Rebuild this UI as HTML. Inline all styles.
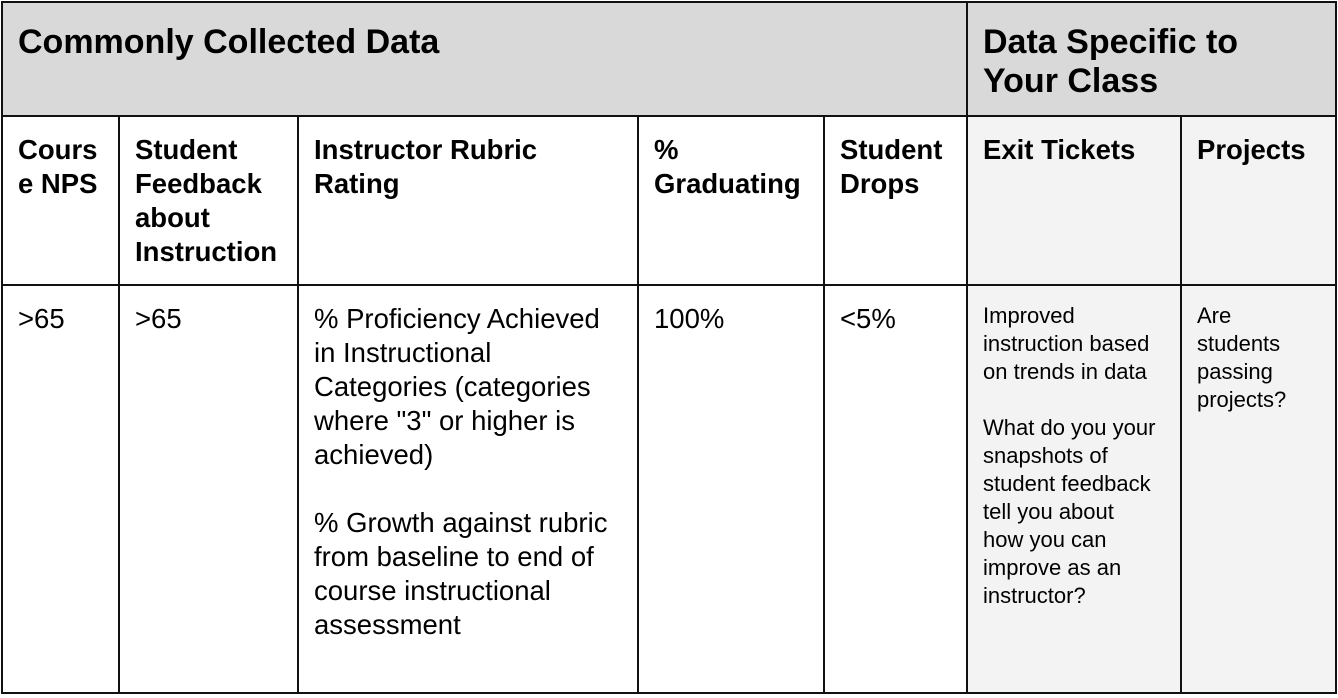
<!DOCTYPE html>
<html><head><meta charset="utf-8"><style>
html,body{margin:0;padding:0;background:#fff;width:1338px;height:698px;overflow:hidden}
body{position:relative;font-family:"Liberation Sans",Arial,sans-serif;color:#000}
.c{position:absolute;box-sizing:border-box;border:2px solid #111;}
.t{position:absolute;left:15px;right:4px;}
.h{font-weight:bold;font-size:34px;line-height:39px}
.b{font-weight:bold;font-size:27.5px;line-height:34px}
.n{font-size:27.5px;line-height:34px}
.s{font-size:22px;line-height:28px}
.g1{background:#d9d9d9}.g2{background:#f3f3f3}
</style></head><body>
<div class="c g1" style="left:1px;top:1px;width:967px;height:116px"><div class="t h" style="top:20px">Commonly Collected Data</div></div>
<div class="c g1" style="left:966px;top:1px;width:371px;height:116px"><div class="t h" style="top:20px;white-space:nowrap">Data Specific to<br>Your Class</div></div>

<div class="c" style="left:1px;top:115px;width:119px;height:171px"><div class="t b" style="top:16px">Cours<br>e NPS</div></div>
<div class="c" style="left:118px;top:115px;width:181px;height:171px"><div class="t b" style="top:16px">Student<br>Feedback<br>about<br>Instruction</div></div>
<div class="c" style="left:297px;top:115px;width:342px;height:171px"><div class="t b" style="top:16px">Instructor Rubric<br>Rating</div></div>
<div class="c" style="left:637px;top:115px;width:188px;height:171px"><div class="t b" style="top:16px">%<br>Graduating</div></div>
<div class="c" style="left:823px;top:115px;width:145px;height:171px"><div class="t b" style="top:16px">Student<br>Drops</div></div>
<div class="c g2" style="left:966px;top:115px;width:216px;height:171px"><div class="t b" style="top:16px">Exit Tickets</div></div>
<div class="c g2" style="left:1180px;top:115px;width:157px;height:171px"><div class="t b" style="top:16px">Projects</div></div>

<div class="c" style="left:1px;top:284px;width:119px;height:410px"><div class="t n" style="top:16px">&gt;65</div></div>
<div class="c" style="left:118px;top:284px;width:181px;height:410px"><div class="t n" style="top:16px">&gt;65</div></div>
<div class="c" style="left:297px;top:284px;width:342px;height:410px"><div class="t n" style="top:16px;white-space:nowrap">% Proficiency Achieved<br>in Instructional<br>Categories (categories<br>where "3" or higher is<br>achieved)<br><br>% Growth against rubric<br>from baseline to end of<br>course instructional<br>assessment</div></div>
<div class="c" style="left:637px;top:284px;width:188px;height:410px"><div class="t n" style="top:16px">100%</div></div>
<div class="c" style="left:823px;top:284px;width:145px;height:410px"><div class="t n" style="top:16px">&lt;5%</div></div>
<div class="c g2" style="left:966px;top:284px;width:216px;height:410px"><div class="t s" style="top:16px;white-space:nowrap">Improved<br>instruction based<br>on trends in data<br><br>What do you your<br>snapshots of<br>student feedback<br>tell you about<br>how you can<br>improve as an<br>instructor?</div></div>
<div class="c g2" style="left:1180px;top:284px;width:157px;height:410px"><div class="t s" style="top:16px;white-space:nowrap">Are<br>students<br>passing<br>projects?</div></div>
</body></html>
